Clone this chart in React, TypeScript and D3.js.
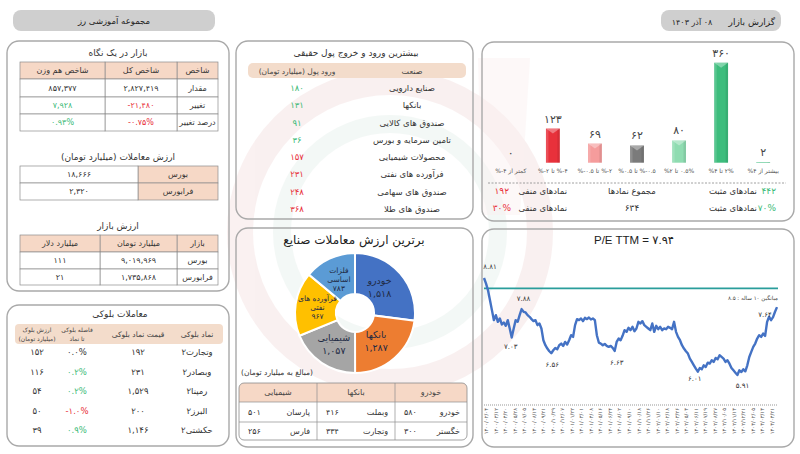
import React, { useEffect } from "react";
import * as d3 from "d3";

const FA = "'DejaVu Sans', sans-serif";
const fa = (v: string | number) => String(v).replace(/[0-9]/g, d => "۰۱۲۳۴۵۶۷۸۹"[+d]);
const faNum = (n: number) => fa(d3.format(",")(n));

const RED = "#e8313b";
const GREEN = "#3dbb78";
const PEACH = "#f6d8c6";
const TXT = "#333";

// distribution of symbols by daily change
const barCats = ["کمتر از ۴-%", "۴-% تا ۲-%", "۲-% تا ۰.۵-%", "۰.۵-% تا ۰.۵%", "۰.۵% تا ۲%", "۲% تا ۴%", "بیشتر از ۴%"];
const barValues = [0, 123, 69, 62, 80, 360, 2];
const barColors = ["#e8313b", "#e8313b", "#f59c9c", "#7b7b7b", "#8fdcb1", "#3dbd7d", "#3dbd7d"];
const posCount = 442;
const negCount = 192;
const totalCount = 634;
const posPct = 70;
const negPct = 30;

// real money flow
const flowNames = ["صنایع دارویی", "بانکها", "صندوق های کالایی", "تامین سرمایه و بورس", "محصولات شیمیایی", "فرآورده های نفتی", "صندوق های سهامی", "صندوق های طلا"];
const flowValues = [180, 131, 91, 36, 157, 231, 248, 368];
const flowIn = [true, true, true, true, false, false, false, false];

// market at a glance
const idxHeader = ["شاخص", "شاخص کل", "شاخص هم وزن"];
const idxRows = ["مقدار", "تغییر", "درصد تغییر"];
const idxTotal = ["2,827,419", "-21,480", "-0.75%"];
const idxEqual = ["857,377", "7,928", "0.93%"];

const tradeMarkets = ["بورس", "فرابورس"];
const tradeValues = [18666, 2320];

const capHeader = ["بازار", "میلیارد تومان", "میلیارد دلار"];
const capMarkets = ["بورس", "فرابورس"];
const capToman = [9019969, 1735868];
const capDollar = [111, 21];

// block trades
const blockSymbols = ["وتجارت۲", "وبصادر۲", "رمپنا۲", "البرز۲", "حکشتی۲"];
const blockPrices = [192, 231, 1529, 200, 1146];
const blockGaps = [0.0, 0.2, 0.2, -1.0, 0.9];
const blockValues = [152, 116, 54, 50, 39];

// industries by trade value
const pieNames = ["خودرو", "بانکها", "شیمیایی", "فرآورده های\nنفتی", "فلزات\nاساسی"];
const pieValues = [1518, 1287, 1057, 967, 783];
const pieColors = ["#4472c4", "#ed7d31", "#a5a5a5", "#ffc000", "#5b9bd5"];

const topGroups = ["خودرو", "بانکها", "شیمیایی"];
const topSymbols = [["خودرو", "خگستر"], ["وبملت", "وتجارت"], ["پارسان", "فارس"]];
const topValues = [[580, 300], [416, 334], [501, 256]];

// P/E TTM history
const peValues = [
  8.81, 8.65, 8.45, 8.15, 7.85, 7.55, 7.7, 7.5, 7.6, 7.42, 7.48, 7.38, 7.55, 7.3, 7.03, 7.3, 7.55, 7.5, 7.7, 7.88,
  7.8, 7.78, 7.7, 7.65, 7.58, 7.52, 7.55, 7.4, 7.45, 7.3, 6.95, 6.8, 6.7, 6.62, 6.56,
  6.65, 6.72, 6.68, 6.8, 6.85, 6.78, 6.9, 6.82, 6.95, 7.1, 7.05,
  7.4, 7.58, 7.55, 7.6, 7.52, 7.62, 7.58, 7.63, 7.57, 7.6, 7.55,
  7.1, 6.88, 6.85, 6.8, 6.84, 6.78, 6.75, 6.78, 6.72, 6.63,
  6.9, 7.0, 6.95, 7.08, 7.25, 7.2, 7.32, 7.25, 7.35, 7.22, 7.3, 7.5, 7.45, 7.52, 7.4,
  7.35, 7.3, 7.25, 7.45, 7.2, 7.38, 7.28, 7.35, 7.25, 7.3, 7.28, 7.35, 7.32, 7.28, 7.5,
  7.2, 7.05, 6.95, 6.8, 6.7, 6.62, 6.55, 6.4, 6.3, 6.2, 6.1, 6.01,
  6.12, 6.08, 6.2, 6.15, 6.28, 6.25, 6.35, 6.3, 6.42, 6.38, 6.5, 6.45, 6.4, 6.3, 6.35, 6.25, 6.12, 6.05, 5.98, 5.91,
  6.05, 6.0, 6.08, 6.02,
  6.2, 6.45, 6.6, 6.75, 6.85, 7.0, 7.1, 7.05, 7.15, 7.08, 7.5, 7.65, 7.55, 7.64, 7.8, 7.94,
];
const peCurrent = 7.94;
const peAverage = 8.5;
const peNotes = [
  { v: 8.81, dx: 6, dy: -9.5 },
  { v: 7.03, dx: -1, dy: 11 },
  { v: 7.88, dx: 2, dy: -8.5 },
  { v: 6.56, dx: 1, dy: 14 },
  { v: 6.63, dx: 2, dy: 14.5 },
  { v: 6.01, dx: -3, dy: 9 },
  { v: 5.91, dx: 5, dy: 12.5 },
  { v: 7.64, dx: -8, dy: 0 },
];
const peDates = [
  "1400/02/04", "1400/03/12", "1400/04/20", "1400/05/28", "1400/07/05", "1400/08/13", "1400/09/21", "1400/10/29",
  "1400/12/07", "1401/01/22", "1401/03/01", "1401/04/08", "1401/05/16", "1401/06/24", "1401/08/02", "1401/09/10",
  "1401/10/18", "1401/11/26", "1402/01/10", "1402/02/18", "1402/03/26", "1402/05/03", "1402/06/11", "1402/07/19",
  "1402/08/27", "1402/10/05", "1402/11/13", "1402/12/21", "1403/02/05", "1403/03/13", "1403/04/21",
];

const Panel = ({ x, y, w, h }: any) => (
  <rect x={x} y={y} width={w} height={h} rx={12} fill="none" stroke="#a9a9a9" strokeWidth={1.4} />
);

// grid table; columns in each row listed right-to-left
function GridTable({ xs, ys, rows, fill, color, fs }: any) {
  const nC = xs.length - 1;
  return (
    <g>
      {rows.map((row: string[], r: number) =>
        row.map((cell, c) => {
          const ci = nC - 1 - c;
          const x0 = xs[ci], x1 = xs[ci + 1], y0 = ys[r], y1 = ys[r + 1];
          return (
            <g key={r + "-" + c}>
              <rect x={x0} y={y0} width={x1 - x0} height={y1 - y0} fill={fill(r, c)} stroke="#8c8c8c" strokeWidth={0.7} />
              <text x={(x0 + x1) / 2} y={(y0 + y1) / 2} dy="0.36em" textAnchor="middle" fontSize={fs} fill={color(r, c)}>
                {cell}
              </text>
            </g>
          );
        })
      )}
    </g>
  );
}

function BarPanel() {
  const x = d3.scaleBand().domain(barCats).range([490, 784]).paddingInner(0.67).paddingOuter(0.33);
  const y = d3.scaleLinear().domain([0, 360]).range([162.7, 62.7]);
  const bw = x.bandwidth();
  return (
    <g fontFamily={FA}>
      {barCats.map((c, i) => {
        const x0 = x(c)!;
        const yt = y(barValues[i]);
        const h = y(0) - yt;
        return (
          <g key={c}>
            {h > 0.5 && (
              <>
                <rect x={x0} y={yt} width={bw} height={h} fill={barColors[i]} />
                <rect x={x0} y={yt} width={bw * 0.18} height={h} fill="#fff" opacity={0.15} />
                <rect x={x0 + bw * 0.82} y={yt} width={bw * 0.18} height={h} fill="#000" opacity={0.08} />
                {h > 6 && <path d={`M${x0},${yt}L${x0 + bw},${yt}L${x0 + bw / 2},${yt + 5}Z`} fill="#fff" opacity={0.35} />}
              </>
            )}
            <text x={x0 + bw / 2} y={yt - 6} textAnchor="middle" fontSize={11} fill="#444">{fa(barValues[i])}</text>
            <text x={x0 + bw / 2} y={173} textAnchor="middle" fontSize={6} fill="#555" direction="rtl">{c}</text>
          </g>
        );
      })}
      <line x1={488} x2={786} y1={183} y2={183} stroke="#888" strokeDasharray="2,1.5" strokeWidth={0.8} />
      <text x={757} y={194} textAnchor="end" fontSize={8.5} fill={TXT}>نمادهای مثبت</text>
      <text x={776} y={194} textAnchor="end" fontSize={9} fill={GREEN}>{fa(posCount)}</text>
      <text x={757} y={211} textAnchor="end" fontSize={8.5} fill={TXT}>نمادهای مثبت</text>
      <text x={776} y={211} textAnchor="end" fontSize={9} fill={GREEN}>{fa(posPct) + "%"}</text>
      <text x={632} y={194} textAnchor="middle" fontSize={8.5} fill={TXT}>مجموع نمادها</text>
      <text x={632} y={211} textAnchor="middle" fontSize={9} fill={TXT}>{fa(totalCount)}</text>
      <text x={567} y={194} textAnchor="end" fontSize={8.5} fill={TXT}>نمادهای منفی</text>
      <text x={509} y={194} textAnchor="end" fontSize={9} fill={RED}>{fa(negCount)}</text>
      <text x={567} y={211} textAnchor="end" fontSize={8.5} fill={TXT}>نمادهای منفی</text>
      <text x={511} y={211} textAnchor="end" fontSize={9} fill={RED}>{fa(negPct) + "%"}</text>
    </g>
  );
}

function FlowPanel() {
  const y = d3.scalePoint().domain(flowNames).range([88, 209]);
  return (
    <g fontFamily={FA}>
      <text x={356} y={56} textAnchor="middle" fontSize={9} fill={TXT}>بیشترین ورود و خروج پول حقیقی</text>
      <rect x={248} y={63} width={218} height={15} rx={5} fill="#f3dccb" />
      <text x={412} y={73.5} textAnchor="middle" fontSize={8} fill="#444">صنعت</text>
      <text x={297} y={73.5} textAnchor="middle" fontSize={7.5} fill="#444">ورود پول (میلیارد تومان)</text>
      {flowNames.map((n, i) => (
        <g key={n}>
          <text x={412} y={y(n)! + 3} textAnchor="middle" fontSize={8.5} fill={TXT}>{n}</text>
          <text x={297} y={y(n)! + 3} textAnchor="middle" fontSize={8.5} fill={flowIn[i] ? GREEN : RED}>{fa(flowValues[i])}</text>
        </g>
      ))}
    </g>
  );
}

function GlancePanel() {
  const rows1 = [idxHeader, ...idxRows.map((r, i) => [r, fa(idxTotal[i]), fa(idxEqual[i])])];
  const rows2 = tradeMarkets.map((m, i) => [m, faNum(tradeValues[i])]);
  const rows3 = [capHeader, ...capMarkets.map((m, i) => [m, faNum(capToman[i]), faNum(capDollar[i])])];
  return (
    <g fontFamily={FA}>
      <text x={118} y={56} textAnchor="middle" fontSize={9} fill={TXT}>بازار در یک نگاه</text>
      <GridTable
        xs={[20, 105, 177, 218]}
        ys={[62, 79, 97, 114, 131]}
        rows={rows1}
        fs={8}
        fill={(r: number) => (r === 0 ? PEACH : "#fff")}
        color={(r: number, c: number) => (r >= 2 && c === 1 ? RED : r >= 2 && c === 2 ? GREEN : TXT)}
      />
      <text x={118} y={160} textAnchor="middle" fontSize={9} fill={TXT}>ارزش معاملات (میلیارد تومان)</text>
      <GridTable
        xs={[20, 138, 218]}
        ys={[166, 183, 200]}
        rows={rows2}
        fs={8}
        fill={(r: number, c: number) => (c === 0 ? PEACH : "#fff")}
        color={() => TXT}
      />
      <text x={118} y={229} textAnchor="middle" fontSize={9} fill={TXT}>ارزش بازار</text>
      <GridTable
        xs={[20, 100, 177, 218]}
        ys={[235, 252, 269, 285]}
        rows={rows3}
        fs={8}
        fill={(r: number) => (r === 0 ? PEACH : "#fff")}
        color={() => TXT}
      />
    </g>
  );
}

function BlockPanel() {
  const y = d3.scalePoint().domain(blockSymbols).range([352, 430]);
  const gapColor = (g: number) => (g > 0 ? GREEN : g < 0 ? RED : TXT);
  return (
    <g fontFamily={FA}>
      <text x={120} y={317} textAnchor="middle" fontSize={9} fill={TXT}>معاملات بلوکی</text>
      <rect x={15} y={324} width={208} height={20} rx={4} fill="#f3dccb" />
      <text x={197} y={337} textAnchor="middle" fontSize={7.5} fill="#444">نماد بلوکی</text>
      <text x={138} y={337} textAnchor="middle" fontSize={7.5} fill="#444">قیمت نماد بلوکی</text>
      <text x={77} y={332} textAnchor="middle" fontSize={6} fill="#444">فاصله بلوکی</text>
      <text x={77} y={341} textAnchor="middle" fontSize={6} fill="#444">تا نماد</text>
      <text x={37} y={332} textAnchor="middle" fontSize={6} fill="#444">ارزش بلوک</text>
      <text x={37} y={341} textAnchor="middle" fontSize={6} fill="#444">(میلیارد تومان)</text>
      {blockSymbols.map((s, i) => (
        <g key={s} fontSize={8.5}>
          <text x={197} y={y(s)! + 3} textAnchor="middle" fill={TXT}>{s}</text>
          <text x={138} y={y(s)! + 3} textAnchor="middle" fill={TXT}>{faNum(blockPrices[i])}</text>
          <text x={77} y={y(s)! + 3} textAnchor="middle" fill={gapColor(blockGaps[i])}>{fa(blockGaps[i].toFixed(1)) + "%"}</text>
          <text x={37} y={y(s)! + 3} textAnchor="middle" fill={TXT}>{fa(blockValues[i])}</text>
        </g>
      ))}
    </g>
  );
}

function PiePanel() {
  const cx = 355, cy = 313;
  const arcs = d3.pie<number>().sort(null).value(d => d)(pieValues);
  const arc = d3.arc<d3.PieArcDatum<number>>().innerRadius(19).outerRadius(60);
  const labelArc = d3.arc<d3.PieArcDatum<number>>().innerRadius(32).outerRadius(44);
  const xs = [239, 317, 395, 467];
  const ys = [383, 402, 422, 440];
  return (
    <g fontFamily={FA}>
      <text x={354} y={244} textAnchor="middle" fontSize={12} fill="#222">برترین ارزش معاملات صنایع</text>
      <g transform={`translate(${cx},${cy})`}>
        {arcs.map((a, i) => (
          <path key={i} d={arc(a)!} fill={pieColors[i]} stroke="#fff" strokeWidth={2} />
        ))}
        {arcs.map((a, i) => {
          const [lx, ly] = labelArc.centroid(a);
          const lines = [...pieNames[i].split("\n"), faNum(pieValues[i])];
          const small = lines.length > 2;
          const lh = small ? 9 : 13;
          const fs = small ? 7.5 : 9.5;
          return (
            <text key={"l" + i} x={lx} y={ly} textAnchor="middle" fontSize={fs} fill="#1f2a44">
              {lines.map((l, k) => (
                <tspan key={k} x={lx - (i < 2 ? 4 : 0)} y={ly + (k - (lines.length - 1) / 2) * lh + 3}>{l}</tspan>
              ))}
            </text>
          );
        })}
      </g>
      <text x={241} y={375} fontSize={7.5} fill="#333">(مبالغ به میلیارد تومان)</text>
      <path d={`M${xs[0]},${ys[1]}V${ys[0] + 5}a5,5 0 0 1 5,-5H${xs[3] - 5}a5,5 0 0 1 5,5V${ys[1]}Z`} fill={PEACH} />
      <rect x={xs[0]} y={ys[0]} width={xs[3] - xs[0]} height={ys[3] - ys[0]} rx={5} fill="none" stroke="#8c8c8c" strokeWidth={0.8} />
      <line x1={xs[0]} x2={xs[3]} y1={ys[1]} y2={ys[1]} stroke="#8c8c8c" strokeWidth={0.7} />
      <line x1={xs[0]} x2={xs[3]} y1={ys[2]} y2={ys[2]} stroke="#8c8c8c" strokeWidth={0.7} />
      {[xs[1], xs[2]].map(v => (
        <line key={v} x1={v} x2={v} y1={ys[0]} y2={ys[3]} stroke="#8c8c8c" strokeWidth={0.7} />
      ))}
      {topGroups.map((g, gi) => {
        const ci = 2 - gi;
        const x0 = xs[ci], x1 = xs[ci + 1];
        return (
          <g key={g} fontSize={8}>
            <text x={(x0 + x1) / 2} y={395} textAnchor="middle" fill="#444">{g}</text>
            {topSymbols[gi].map((s, r) => (
              <g key={s}>
                <text x={x1 - 7} y={(ys[r + 1] + ys[r + 2]) / 2 + 3} textAnchor="end" fill={TXT}>{s}</text>
                <text x={x0 + 9} y={(ys[r + 1] + ys[r + 2]) / 2 + 3} textAnchor="start" fill={TXT}>{fa(topValues[gi][r])}</text>
              </g>
            ))}
          </g>
        );
      })}
    </g>
  );
}

function PEPanel() {
  const x = d3.scaleLinear().domain([0, peValues.length - 1]).range([484, 777]);
  const y = d3.scaleLinear().domain([5.91, 8.81]).range([375, 278]);
  const xd = d3.scalePoint().domain(peDates).range([486, 772]);
  const line = d3.line<number>().x((_, i) => x(i)).y(d => y(d));
  return (
    <g fontFamily={FA}>
      <text x={634} y={244} textAnchor="middle" fontSize={11.5} fill="#222" fontFamily="'Liberation Sans', 'DejaVu Sans', sans-serif">
        {"P/E TTM = " + fa(peCurrent.toFixed(2))}
      </text>
      <line x1={484} x2={778} y1={y(peAverage)} y2={y(peAverage)} stroke="#2a9d9b" strokeWidth={1.6} />
      <path d={line(peValues)!} fill="none" stroke="#4472c4" strokeWidth={2.4} strokeLinejoin="round" />
      <text x={778} y={y(peAverage) + 12} textAnchor="end" fontSize={5.5} fill="#444" direction="ltr">{"میانگین ۱۰ ساله : " + fa(peAverage)}</text>
      {peNotes.map(n => {
        const i = peValues.lastIndexOf(n.v);
        return (
          <text key={n.v} x={x(i) + n.dx} y={y(n.v) + n.dy} textAnchor="middle" fontSize={7} fill="#333">{fa(n.v.toFixed(2))}</text>
        );
      })}
      <line x1={484} x2={778} y1={405} y2={405} stroke="#bbb" strokeDasharray="1,1" strokeWidth={1.5} />
      {peDates.map(d => (
        <text key={d} transform={`translate(${xd(d)! + 2},${408}) rotate(-90)`} textAnchor="end" fontSize={5.3} fill="#555">{fa(d)}</text>
      ))}
    </g>
  );
}

export default function App() {
  useEffect(() => {
    document.body.style.margin = "0";
  }, []);
  return (
    <svg width={800} height={454} style={{ position: "absolute", left: 0, top: 0, background: "#fff" }} fontFamily={FA}>
      {/* faint watermark */}
      <g opacity={0.35}>
        <circle cx={390} cy={232} r={150} fill="none" stroke="#f0d6d6" strokeWidth={26} />
        <circle cx={390} cy={232} r={108} fill="none" stroke="#dfece6" strokeWidth={18} />
        <path d="M478,58 L530,58 L520,215 L482,215 Z" fill="#f4d4d4" opacity={0.45} />
      </g>
      {/* header */}
      <rect x={13} y={10} width={202} height={21} rx={8} fill="#cfcfcf" />
      <text x={114} y={24} textAnchor="middle" fontSize={8.5} fill="#222">مجموعه آموزشی رز</text>
      <rect x={661} y={10} width={120} height={21} rx={8} fill="#cfcfcf" />
      <text x={775} y={24.5} textAnchor="end" fontSize={9} fill="#222">گزارش بازار</text>
      <text x={692} y={24.5} textAnchor="middle" fontSize={8} fill="#222" direction="rtl">{fa("08") + " آذر " + fa(1403)}</text>

      <Panel x={7} y={41} w={222} h={250} />
      <Panel x={7} y={305} w={222} h={141} />
      <Panel x={236} y={41} w={237} h={178} />
      <Panel x={236} y={228} w={237} h={219} />
      <Panel x={482} y={42} w={312} h={179} />
      <Panel x={482} y={229} w={312} h={218} />

      <GlancePanel />
      <BlockPanel />
      <FlowPanel />
      <PiePanel />
      <BarPanel />
      <PEPanel />
    </svg>
  );
}
